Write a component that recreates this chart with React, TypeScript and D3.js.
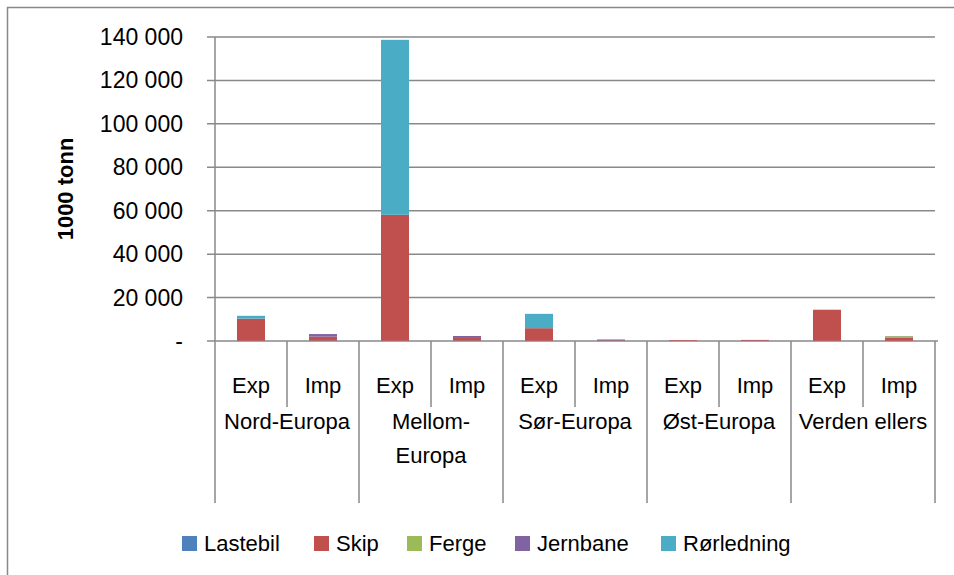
import React from "react";
import * as d3 from "d3";

const groups = ["Nord-Europa", "Mellom-Europa", "Sør-Europa", "Øst-Europa", "Verden ellers"];
const groupLines = [["Nord-Europa"], ["Mellom-", "Europa"], ["Sør-Europa"], ["Øst-Europa"], ["Verden ellers"]];
const subs = ["Exp", "Imp"];
const seriesNames = ["Lastebil", "Skip", "Ferge", "Jernbane", "Rørledning"];
const colors = ["#4F81BD", "#C0504D", "#9BBB59", "#8064A2", "#4BACC6"];

const lastebil = [100, 200, 100, 200, 100, 100, 50, 100, 100, 100];
const skip = [10200, 1800, 58000, 1200, 5800, 200, 300, 300, 14300, 1300];
const ferge = [0, 0, 0, 0, 0, 0, 0, 0, 0, 800];
const jernbane = [0, 1200, 0, 900, 0, 400, 0, 100, 0, 100];
const rorledning = [1300, 0, 80600, 0, 6600, 0, 0, 0, 0, 0];
const yTicks = [0, 20000, 40000, 60000, 80000, 100000, 120000, 140000];

const seriesValues = [lastebil, skip, ferge, jernbane, rorledning];

const W = 954;
const H = 575;
const left = 215;
const right = 935;
const top = 37;
const zeroY = 341;
const font = "'Liberation Sans', Arial, sans-serif";
const grid = "#898989";

export default function App() {
  const keys = groups.flatMap((g) => subs.map((s) => g + "|" + s));
  const x = d3.scaleBand<string>().domain(keys).range([left, right]).paddingInner(0).paddingOuter(0);
  const y = d3.scaleLinear().domain([0, 140000]).range([zeroY, top]);
  const gx = d3.scaleBand<string>().domain(groups).range([left, right]);

  const rows = keys.map((k, i) => {
    const r: any = { key: k };
    seriesNames.forEach((s, j) => (r[s] = seriesValues[j][i]));
    return r;
  });
  const stacked = d3.stack<any>().keys(seriesNames)(rows);
  const bw = 28;
  const fmt = (v: number) => (v === 0 ? "-" : d3.format(",")(v).replace(/,/g, " "));

  const legendX = [182, 314, 407, 515, 661];

  return (
    <svg width={W} height={H} style={{ position: "absolute", left: 0, top: 0, background: "#fff" }}>
      <rect x={0} y={0} width={W} height={H} fill="#fff" />
      <rect x={7.5} y={7.5} width={W + 20} height={H + 20} fill="none" stroke={grid} strokeWidth={1.5} />
      {yTicks.map((t) => (
        <g key={t}>
          <line x1={207} x2={t === 0 ? right + 3 : right} y1={y(t)} y2={y(t)} stroke={grid} strokeWidth={1.5} />
          <text x={183} y={y(t)} dy="0.35em" textAnchor="end" fontFamily={font} fontSize={23} fill="#000">
            {fmt(t)}
          </text>
        </g>
      ))}
      {stacked.map((layer, j) => (
        <g key={seriesNames[j]} fill={colors[j]}>
          {layer.map((d, i) => {
            const h = y(d[0]) - y(d[1]);
            if (h <= 0) return null;
            return <rect key={i} x={x(keys[i])! + (x.bandwidth() - bw) / 2} y={y(d[1])} width={bw} height={h} />;
          })}
        </g>
      ))}
      <line x1={left} x2={left} y1={top} y2={503} stroke={grid} strokeWidth={1.5} />
      {keys.map((k, i) => {
        const xr = x(k)! + x.bandwidth();
        const isGroupEnd = i % 2 === 1;
        return <line key={k} x1={xr} x2={xr} y1={zeroY} y2={isGroupEnd ? 503 : 407} stroke={grid} strokeWidth={1.5} />;
      })}
      {keys.map((k) => (
        <text key={k} x={x(k)! + x.bandwidth() / 2} y={385} dy="0.35em" textAnchor="middle" fontFamily={font} fontSize={22}>
          {k.split("|")[1]}
        </text>
      ))}
      {groups.map((g, i) => (
        <text key={g} x={gx(g)! + gx.bandwidth() / 2} y={421} textAnchor="middle" fontFamily={font} fontSize={22}>
          {groupLines[i].map((ln, li) => (
            <tspan key={li} x={gx(g)! + gx.bandwidth() / 2} dy={li === 0 ? "0.35em" : 34}>
              {ln}
            </tspan>
          ))}
        </text>
      ))}
      <text
        transform={`translate(65,${(top + zeroY) / 2}) rotate(-90)`}
        textAnchor="middle"
        dy="0.35em"
        fontFamily={font}
        fontSize={22}
        fontWeight="bold"
      >
        1000 tonn
      </text>
      {seriesNames.map((s, j) => (
        <g key={s}>
          <rect x={legendX[j]} y={536} width={15} height={15} fill={colors[j]} />
          <text x={legendX[j] + 22} y={543.5} dy="0.35em" fontFamily={font} fontSize={22}>
            {s}
          </text>
        </g>
      ))}
    </svg>
  );
}
